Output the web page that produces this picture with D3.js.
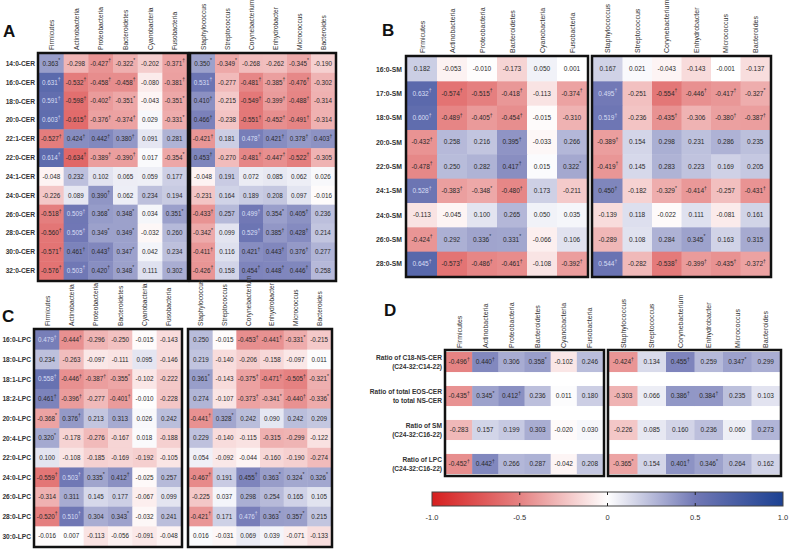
<!DOCTYPE html>
<html>
<head>
<meta charset="utf-8">
<script src="https://cdn.jsdelivr.net/npm/d3@7"></script>
<style>
  body { margin: 0; background: #fff; }
  svg { font-family: "Liberation Sans", Arial, sans-serif; }
</style>
</head>
<body>
<div id="chart"></div>
<script>
// column names
var phyla = ["Firmicutes", "Actinobacteria", "Proteobacteria", "Bacteroidetes", "Cyanobacteria", "Fusobacteria"];
var genera = ["Staphylococcus", "Streptococcus", "Corynebacterium", "Enhydrobacter", "Micrococcus", "Bacteroides"];

// A - ceramides
var cerRows = ["14:0-CER", "16:0-CER", "18:0-CER", "20:0-CER", "22:1-CER", "22:0-CER",
               "24:1-CER", "24:0-CER", "26:0-CER", "28:0-CER", "30:0-CER", "32:0-CER"];
var cerPhyla = [
  [0.363, -0.298, -0.427, -0.322, -0.202, -0.371],
  [0.631, -0.532, -0.458, -0.458, -0.080, -0.381],
  [0.591, -0.598, -0.402, -0.351, -0.043, -0.351],
  [0.603, -0.615, -0.376, -0.374, 0.029, -0.331],
  [-0.527, 0.424, 0.442, 0.380, 0.091, 0.281],
  [0.614, -0.634, -0.389, -0.390, 0.017, -0.354],
  [-0.048, 0.232, 0.102, 0.065, 0.059, 0.177],
  [-0.226, 0.089, 0.390, 0.062, 0.234, 0.194],
  [-0.518, 0.509, 0.368, 0.348, 0.034, 0.351],
  [-0.560, 0.505, 0.349, 0.349, -0.032, 0.260],
  [-0.571, 0.461, 0.443, 0.347, 0.042, 0.234],
  [-0.576, 0.503, 0.420, 0.348, 0.111, 0.302]];
var cerGenera = [
  [0.350, -0.349, -0.268, -0.262, -0.345, -0.190],
  [0.531, -0.277, -0.481, -0.385, -0.476, -0.302],
  [0.410, -0.215, -0.549, -0.399, -0.488, -0.314],
  [0.466, -0.238, -0.551, -0.452, -0.491, -0.314],
  [-0.421, 0.181, 0.478, 0.421, 0.378, 0.403],
  [0.453, -0.270, -0.481, -0.447, -0.522, -0.305],
  [-0.048, 0.191, 0.072, 0.085, 0.062, 0.026],
  [-0.231, 0.164, 0.189, 0.208, 0.097, -0.016],
  [-0.433, 0.257, 0.499, 0.354, 0.405, 0.236],
  [-0.342, 0.099, 0.529, 0.385, 0.428, 0.214],
  [-0.411, 0.116, 0.421, 0.443, 0.376, 0.277],
  [-0.426, 0.158, 0.454, 0.448, 0.446, 0.258]];

// B - sphingomyelins
var smRows = ["16:0-SM", "17:0-SM", "18:0-SM", "20:0-SM", "22:0-SM", "24:1-SM", "24:0-SM", "26:0-SM", "28:0-SM"];
var smPhyla = [
  [0.182, -0.053, -0.010, -0.173, 0.050, 0.001],
  [0.632, -0.574, -0.515, -0.418, -0.113, -0.374],
  [0.600, -0.489, -0.405, -0.454, -0.015, -0.310],
  [-0.432, 0.258, 0.216, 0.395, -0.033, 0.266],
  [-0.478, 0.250, 0.282, 0.417, 0.015, 0.322],
  [0.528, -0.383, -0.348, -0.480, 0.173, -0.211],
  [-0.113, -0.045, 0.100, 0.265, 0.050, 0.035],
  [-0.424, 0.292, 0.336, 0.331, -0.066, 0.106],
  [0.645, -0.573, -0.486, -0.461, -0.108, -0.392]];
var smGenera = [
  [0.167, 0.021, -0.043, -0.143, -0.001, -0.137],
  [0.495, -0.251, -0.554, -0.446, -0.417, -0.327],
  [0.519, -0.236, -0.435, -0.306, -0.380, -0.387],
  [-0.389, 0.154, 0.298, 0.231, 0.286, 0.235],
  [-0.419, 0.145, 0.283, 0.223, 0.169, 0.205],
  [0.450, -0.182, -0.329, -0.414, -0.257, -0.431],
  [-0.139, 0.118, -0.022, 0.111, -0.081, 0.161],
  [-0.289, 0.108, 0.284, 0.345, 0.163, 0.315],
  [0.544, -0.282, -0.538, -0.399, -0.435, -0.372]];

// C - lysophosphatidylcholines
var lpcRows = ["16:0-LPC", "18:0-LPC", "18:1-LPC", "18:2-LPC", "20:0-LPC", "20:4-LPC",
               "22:0-LPC", "24:0-LPC", "26:0-LPC", "28:0-LPC", "30:0-LPC"];
var lpcPhyla = [
  [0.479, -0.444, -0.296, -0.250, -0.015, -0.143],
  [0.234, -0.263, -0.097, -0.111, 0.095, -0.146],
  [0.558, -0.446, -0.387, -0.355, -0.102, -0.222],
  [0.461, -0.396, -0.277, -0.401, -0.010, -0.228],
  [-0.368, 0.376, 0.213, 0.313, 0.026, 0.242],
  [0.320, -0.178, -0.276, -0.167, 0.018, -0.188],
  [0.100, -0.108, -0.185, -0.169, -0.192, -0.105],
  [-0.559, 0.503, 0.335, 0.412, -0.025, 0.257],
  [-0.314, 0.311, 0.145, 0.177, -0.067, 0.099],
  [-0.520, 0.510, 0.304, 0.343, -0.032, 0.241],
  [-0.016, 0.007, -0.113, -0.056, -0.091, -0.048]];
var lpcGenera = [
  [0.250, -0.015, -0.453, -0.441, -0.331, -0.215],
  [0.219, -0.140, -0.206, -0.158, -0.097, 0.011],
  [0.361, -0.143, -0.375, -0.471, -0.505, -0.321],
  [0.274, -0.107, -0.373, -0.341, -0.440, -0.336],
  [-0.441, 0.328, 0.242, 0.090, 0.242, 0.209],
  [0.229, -0.140, -0.115, -0.315, -0.299, -0.122],
  [0.054, -0.092, -0.044, -0.160, -0.190, -0.274],
  [-0.467, 0.191, 0.455, 0.363, 0.324, 0.326],
  [-0.225, 0.037, 0.298, 0.254, 0.165, 0.105],
  [-0.421, 0.171, 0.476, 0.363, 0.357, 0.215],
  [0.016, -0.031, 0.069, 0.039, -0.071, -0.133]];

// D - ratios
var ratioRows = [["Ratio of C18-NS-CER", "(C24-32:C14-22)"],
                 ["Ratio of total EOS-CER", "to total NS-CER"],
                 ["Ratio of SM", "(C24-32:C16-22)"],
                 ["Ratio of LPC", "(C24-32:C16-22)"]];
var ratioPhyla = [
  [-0.496, 0.440, 0.306, 0.358, -0.102, 0.246],
  [-0.435, 0.345, 0.412, 0.236, 0.011, 0.180],
  [-0.283, 0.157, 0.199, 0.303, -0.020, 0.030],
  [-0.452, 0.442, 0.266, 0.287, -0.042, 0.208]];
var ratioGenera = [
  [-0.424, 0.134, 0.455, 0.259, 0.347, 0.299],
  [-0.303, 0.066, 0.386, 0.384, 0.235, 0.103],
  [-0.226, 0.085, 0.160, 0.236, 0.060, 0.273],
  [-0.365, 0.154, 0.401, 0.346, 0.264, 0.162]];

// colour bar
var barTicks = [-1, -0.5, 0, 0.5, 1];
var barLabels = ["-1.0", "-0.5", "0", "0.5", "1.0"];

var width = 794, height = 550;

var svg = d3.select("#chart").append("svg")
    .attr("width", width)
    .attr("height", height);

var color = d3.scaleLinear()
    .domain([-1, -0.5, 0, 0.5, 1])
    .range(["#d61f1f", "#e58282", "#ffffff", "#7178b5", "#1c4192"])
    .clamp(true);

// significance marks next to values
function mark(v) {
  var a = Math.abs(v);
  if (a >= 0.37) return "\u2020";
  if (a >= 0.32) return "*";
  return "";
}

function heatBlock(o) {
  var g = svg.append("g");
  var x = d3.scaleBand().domain(o.cols).range([o.x0, o.x1]);
  var y = d3.scaleBand().domain(d3.range(o.values.length)).range([o.y0, o.y1])
      .paddingInner(o.gap || 0);

  var cells = [];
  o.values.forEach(function(row, i) {
    row.forEach(function(v, j) { cells.push({r: i, c: o.cols[j], v: v}); });
  });

  g.selectAll("rect.cell")
    .data(cells)
    .enter().append("rect")
      .attr("class", "cell")
      .attr("x", function(d) { return x(d.c); })
      .attr("y", function(d) { return y(d.r); })
      .attr("width", x.bandwidth() + 0.5)
      .attr("height", y.bandwidth() + (o.gap ? 0 : 0.5))
      .style("fill", function(d) { return color(d.v); });

  var t = g.selectAll("text.val")
    .data(cells)
    .enter().append("text")
      .attr("class", "val")
      .attr("x", function(d) { return x(d.c) + x.bandwidth() / 2; })
      .attr("y", function(d) { return y(d.r) + y.bandwidth() / 2 + 2.3; })
      .attr("text-anchor", "middle")
      .style("font-size", o.fs + "px")
      .style("fill", function(d) { return d.v > 0.47 ? "#d8def4" : "#2a2a2a"; });
  t.append("tspan").text(function(d) { return d.v.toFixed(3); });
  t.append("tspan")
      .attr("dy", -3.5)
      .style("font-size", "5px")
      .text(function(d) { return mark(d.v); });

  // column headers
  g.selectAll("text.head")
    .data(o.cols)
    .enter().append("text")
      .attr("class", "head")
      .attr("transform", function(d) {
        return "translate(" + (x(d) + x.bandwidth() / 2 + 2.5) + "," + (o.y0 - 4) + ") rotate(-90)";
      })
      .style("font-size", o.hfs + "px")
      .style("fill", "#333")
      .text(function(d) { return d; });

  // row labels
  if (o.rows) {
    var rl = g.selectAll("text.row")
      .data(o.rows)
      .enter().append("text")
        .attr("class", "row")
        .attr("x", o.labelX)
        .attr("y", function(d, i) { return y(i) + y.bandwidth() / 2 + 2.5; })
        .attr("text-anchor", "end")
        .style("font-size", o.rfs + "px")
        .style("font-weight", "bold")
        .style("fill", "#333");
    rl.each(function(d) {
      var el = d3.select(this);
      if (Array.isArray(d)) {
        el.append("tspan").attr("x", o.labelX).attr("dy", -4.2).text(d[0]);
        el.append("tspan").attr("x", o.labelX).attr("dy", 8.6).text(d[1]);
      } else {
        el.text(d);
      }
    });
  }

  // frame
  g.append("rect")
    .attr("x", o.x0 - 1)
    .attr("y", o.y0 - (o.gap ? 2 : 1))
    .attr("width", o.x1 - o.x0 + 2)
    .attr("height", o.y1 - o.y0 + (o.gap ? 4 : 2))
    .style("fill", "none")
    .style("stroke", "#111")
    .style("stroke-width", 2.5);
}

function letter(s, x, y) {
  svg.append("text").attr("x", x).attr("y", y)
    .style("font-size", "17px").style("font-weight", "bold").style("fill", "#111")
    .text(s);
}

// Panel A
letter("A", 3, 37);
heatBlock({cols: phyla, values: cerPhyla, rows: cerRows, labelX: 35,
           x0: 39, x1: 187, y0: 54, y1: 280, fs: 6.3, hfs: 6.6, rfs: 6.6});
heatBlock({cols: genera, values: cerGenera,
           x0: 191, x1: 335, y0: 54, y1: 280, fs: 6.3, hfs: 6.6});

// Panel B
letter("B", 382, 36);
heatBlock({cols: phyla, values: smPhyla, rows: smRows, labelX: 402,
           x0: 407, x1: 587, y0: 57, y1: 276, fs: 6.5, hfs: 7, rfs: 6.8});
heatBlock({cols: genera, values: smGenera,
           x0: 593, x1: 770, y0: 57, y1: 276, fs: 6.5, hfs: 7});

// Panel C
letter("C", 2, 322);
heatBlock({cols: phyla, values: lpcPhyla, rows: lpcRows, labelX: 31,
           x0: 35, x1: 181, y0: 330, y1: 546, fs: 6.3, hfs: 6.6, rfs: 6.6});
heatBlock({cols: genera, values: lpcGenera,
           x0: 189, x1: 331, y0: 330, y1: 546, fs: 6.3, hfs: 6.6});

// Panel D
letter("D", 384, 316);
heatBlock({cols: phyla, values: ratioPhyla, rows: ratioRows, labelX: 442,
           x0: 446, x1: 603, y0: 352, y1: 474, gap: 0.41, fs: 6.5, hfs: 7, rfs: 6.6});
heatBlock({cols: genera, values: ratioGenera,
           x0: 609, x1: 780, y0: 352, y1: 474, gap: 0.41, fs: 6.5, hfs: 7});

// colour bar
var cb = d3.scaleLinear().domain([-1, 1]).range([432, 783]);
var grad = svg.append("defs").append("linearGradient").attr("id", "cbar");
grad.selectAll("stop")
  .data(d3.range(0, 1.0001, 0.05))
  .enter().append("stop")
    .attr("offset", function(d) { return (d * 100) + "%"; })
    .attr("stop-color", function(d) { return color(d * 2 - 1); });

svg.append("rect")
  .attr("x", cb(-1)).attr("y", 492)
  .attr("width", cb(1) - cb(-1)).attr("height", 14)
  .style("fill", "url(#cbar)")
  .style("stroke", "#444").style("stroke-width", 1);

svg.selectAll("line.cbt")
  .data(barTicks.slice(1, 4))
  .enter().append("g")
  .each(function(d) {
    var gg = d3.select(this);
    gg.append("line").attr("x1", cb(d)).attr("x2", cb(d)).attr("y1", 492).attr("y2", 495)
      .style("stroke", "#222").style("stroke-width", 1);
    gg.append("line").attr("x1", cb(d)).attr("x2", cb(d)).attr("y1", 503).attr("y2", 506)
      .style("stroke", "#222").style("stroke-width", 1);
  });

svg.selectAll("text.cbl")
  .data(barTicks)
  .enter().append("text")
    .attr("class", "cbl")
    .attr("x", function(d) { return cb(d); })
    .attr("y", 520)
    .attr("text-anchor", "middle")
    .style("font-size", "7.5px")
    .style("fill", "#333")
    .text(function(d, i) { return barLabels[i]; });
</script>
</body>
</html>
